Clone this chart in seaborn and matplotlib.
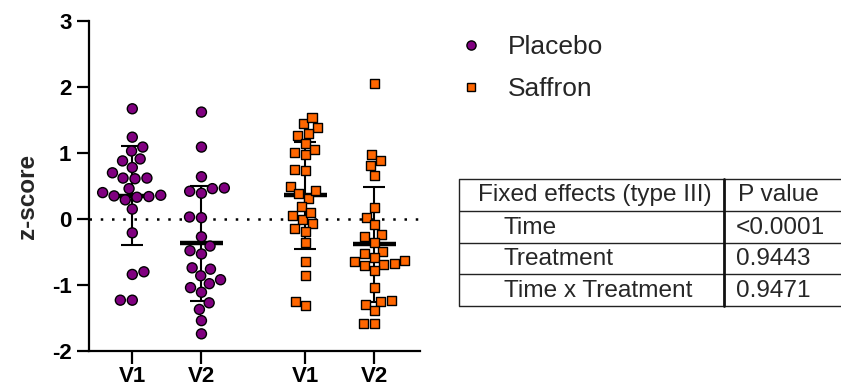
import numpy as np
import pandas as pd
import matplotlib
matplotlib.use("Agg")
import matplotlib.pyplot as plt
from matplotlib.lines import Line2D
import seaborn as sns

# ---------------- data ----------------
groups = ["Placebo", "Saffron"]
visits = ["V1", "V2"]

placebo_v1 = [1.67, 1.24, 1.09, 1.03, 0.88, 0.91, 0.78, 0.70, 0.61, 0.62, 0.62, 0.46,
              0.35, 0.36, 0.33, 0.34, 0.40, 0.29, 0.15, -0.21, -0.84, -0.80, -1.23, -1.23]
placebo_v2 = [1.62, 1.09, 0.64, 0.42, 0.47, 0.46, 0.39, 0.03, 0.02, -0.27, -0.41, -0.48,
              -0.53, -0.74, -0.76, -0.86, -0.92, -0.98, -1.04, -1.11, -1.27, -1.37, -1.54, -1.74]
saffron_v1 = [1.44, 1.26, 1.39, 1.54, 1.30, 1.15, 0.97, 1.05, 1.01, 0.75, 0.73, 0.49,
              0.31, 0.43, 0.39, 0.19, -0.01, 0.06, 0.10, -0.07, -0.19, -0.15, -0.36,
              -0.65, -0.85, -1.31, -1.25]
saffron_v2 = [2.05, 0.98, 0.89, 0.81, 0.66, 0.17, 0.03, -0.08, -0.23, -0.27, -0.35, -0.52,
              -0.49, -0.59, -0.68, -0.64, -0.69, -0.63, -0.70, -0.78, -1.04, -1.23, -1.25,
              -1.29, -1.38, -1.58, -1.58]

table_header = ["Fixed effects (type III)", "P value"]
table_effects = ["Time", "Treatment", "Time x Treatment"]
table_pvalues = ["<0.0001", "0.9443", "0.9471"]

colors = {"Placebo": "#800080", "Saffron": "#FF6600"}
markers = {"Placebo": "o", "Saffron": "s"}
sizes = {"Placebo": 7.2, "Saffron": 6.5}

series = {("Placebo", "V1"): placebo_v1, ("Placebo", "V2"): placebo_v2,
          ("Saffron", "V1"): saffron_v1, ("Saffron", "V2"): saffron_v2}

rows = []
for (g, v), vals in series.items():
    for val in vals:
        rows.append({"Group": g, "Visit": v, "z": val})
df = pd.DataFrame(rows)

# ---------------- figure ----------------
sns.set_style("ticks")
plt.rcParams["font.family"] = ["Liberation Sans", "DejaVu Sans"]

W, H = 841, 390
fig = plt.figure(figsize=(W / 100, H / 100), dpi=100)
ax = fig.add_axes([89 / W, (H - 351) / H, (420 - 89) / W, (351 - 21) / H])

dodge_width = 0.8  # seaborn's default dodge width
for g in groups:
    sub = df[df["Group"] == g]
    sns.swarmplot(data=sub, x="Group", y="z", hue="Visit", order=groups,
                  hue_order=visits, dodge=True,
                  palette={v: colors[g] for v in visits}, marker=markers[g],
                  size=sizes[g], edgecolor="black", linewidth=1.0,
                  legend=False, zorder=3, ax=ax)

# mean and SD
for gi, g in enumerate(groups):
    for vi, v in enumerate(visits):
        vals = np.asarray(series[(g, v)])
        pos = gi + (vi - 0.5) * dodge_width / 2
        m = vals.mean()
        sd = vals.std(ddof=1)
        ax.vlines(pos, m - sd, m + sd, color="black", lw=1.5, zorder=2)
        ax.hlines([m - sd, m + sd], pos - 0.064, pos + 0.064, color="black", lw=1.5, zorder=2)
        ax.hlines(m, pos - 0.124, pos + 0.124, color="black", lw=3.2, zorder=2)

ax.axhline(0, color="black", lw=1.8, linestyle=(0, (1, 3.5)), zorder=1)

ax.set_xlim(-0.4504, 1.464)
ax.set_ylim(-2, 3)
ax.set_yticks([-2, -1, 0, 1, 2, 3])
ax.set_yticklabels(["-2", "-1", "0", "1", "2", "3"])
xt = [gi + (vi - 0.5) * dodge_width / 2 for gi in range(len(groups)) for vi in range(len(visits))]
ax.set_xticks(xt)
ax.set_xticklabels(visits * len(groups))
ax.set_xlabel("")
ax.set_ylabel("z-score", fontsize=17.5, fontweight="bold")
ax.yaxis.set_label_coords(-0.15, 0.467)
for s in ["top", "right"]:
    ax.spines[s].set_visible(False)
for s in ["left", "bottom"]:
    ax.spines[s].set_linewidth(1.6)
    ax.spines[s].set_color("black")
ax.tick_params(axis="y", length=8.6, width=1.6, pad=4, labelsize=16, colors="black")
ax.tick_params(axis="x", length=9, width=1.6, pad=1.5, labelsize=16, colors="black")
for lab in ax.get_xticklabels() + ax.get_yticklabels():
    lab.set_fontweight("bold")
ax.patch.set_alpha(0)

# legend
handles = [Line2D([], [], linestyle="none", marker=markers[g], markersize=sizes[g] - 0.6,
                  markerfacecolor=colors[g], markeredgecolor="black", markeredgewidth=1.0)
           for g in groups]
fig.legend(handles, groups, loc="upper left", bbox_to_anchor=(457.5 / W, 1 - 35 / H),
           frameon=False, fontsize=19, handlelength=1.0, handletextpad=0.9,
           labelspacing=0.7, borderpad=0, borderaxespad=0)

# table (drawn on an overlay in pixel coordinates)
ov = fig.add_axes([0, 0, 1, 1], zorder=-1)
ov.set_xlim(0, W)
ov.set_ylim(H, 0)
ov.axis("off")
row_y = [179.3, 211.0, 242.7, 274.3, 306.0]
for y in row_y:
    ov.plot([459.3, W + 5], [y, y], color="#222222", lw=1.0, solid_capstyle="butt")
ov.plot([459.3, 459.3], [row_y[0], row_y[-1]], color="#222222", lw=1.0)
ov.plot([724.5, 724.5], [row_y[0], row_y[-1]], color="#111111", lw=2.0)
fs = 17.6
ov.text(478, row_y[0] + 21.5, table_header[0], fontsize=fs, va="baseline", ha="left")
ov.text(738, row_y[0] + 21.5, table_header[1], fontsize=fs, va="baseline", ha="left")
for i, (e, p) in enumerate(zip(table_effects, table_pvalues)):
    yb = row_y[i + 1] + 22.5
    ov.text(504, yb, e, fontsize=fs, va="baseline", ha="left")
    ov.text(736, yb, p, fontsize=fs, va="baseline", ha="left")

fig.savefig("out.png", dpi=100)
